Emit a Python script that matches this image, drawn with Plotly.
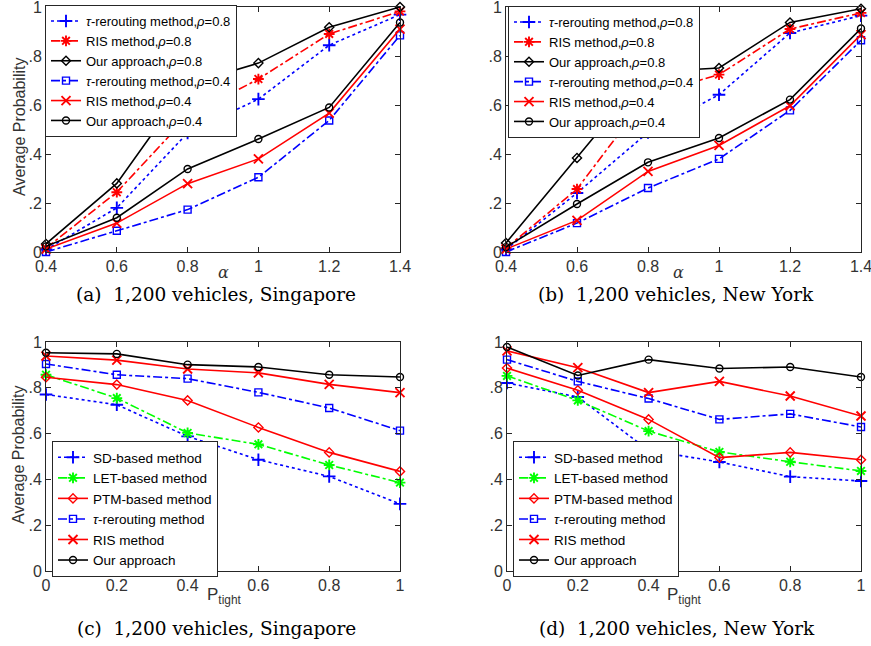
import plotly.graph_objects as go

# ---------------- data ----------------
alpha = [0.4, 0.6, 0.8, 1.0, 1.2, 1.4]
ptight = [0, 0.2, 0.4, 0.6, 0.8, 1.0]
alpha_ticks = ["0.4", "0.6", "0.8", "1", "1.2", "1.4"]
ptight_ticks = ["0", "0.2", "0.4", "0.6", "0.8", "1"]
y_vals = [0, 0.2, 0.4, 0.6, 0.8, 1.0]
y_ticks = ["0", ".2", ".4", ".6", ".8", "1"]

# (a) Singapore, varying alpha
a_tau08 = [0.010, 0.180, 0.486, 0.624, 0.844, 0.969]
a_ris08 = [0.016, 0.244, 0.554, 0.706, 0.890, 0.982]
a_our08 = [0.033, 0.280, 0.685, 0.771, 0.917, 1.000]
a_tau04 = [0.000, 0.087, 0.173, 0.305, 0.537, 0.884]
a_ris04 = [0.012, 0.118, 0.279, 0.380, 0.567, 0.910]
a_our04 = [0.023, 0.140, 0.339, 0.461, 0.590, 0.937]

# (b) New York, varying alpha
b_tau08 = [0.010, 0.241, 0.488, 0.642, 0.894, 0.965]
b_ris08 = [0.016, 0.257, 0.640, 0.724, 0.910, 0.976]
b_our08 = [0.037, 0.384, 0.735, 0.751, 0.937, 0.993]
b_tau04 = [0.000, 0.118, 0.261, 0.380, 0.578, 0.864]
b_ris04 = [0.012, 0.129, 0.329, 0.435, 0.597, 0.887]
b_our04 = [0.020, 0.196, 0.366, 0.465, 0.622, 0.912]

# (c) Singapore, varying P_tight
c_sd = [0.771, 0.726, 0.588, 0.486, 0.413, 0.293]
c_let = [0.857, 0.755, 0.603, 0.553, 0.463, 0.386]
c_ptm = [0.846, 0.814, 0.745, 0.627, 0.518, 0.435]
c_tau = [0.904, 0.857, 0.840, 0.780, 0.712, 0.613]
c_ris = [0.939, 0.921, 0.882, 0.865, 0.815, 0.779]
c_our = [0.953, 0.948, 0.901, 0.891, 0.857, 0.847]

# (d) New York, varying P_tight
d_sd = [0.821, 0.760, 0.527, 0.476, 0.412, 0.393]
d_let = [0.852, 0.745, 0.611, 0.520, 0.477, 0.437]
d_ptm = [0.886, 0.789, 0.662, 0.495, 0.518, 0.486]
d_tau = [0.923, 0.828, 0.753, 0.662, 0.686, 0.629]
d_ris = [0.961, 0.888, 0.779, 0.828, 0.764, 0.677]
d_our = [0.978, 0.854, 0.923, 0.884, 0.891, 0.847]

names_top = [
    "<i>τ</i>-rerouting method,<i>ρ</i>=0.8",
    "RIS method,<i>ρ</i>=0.8",
    "Our approach,<i>ρ</i>=0.8",
    "<i>τ</i>-rerouting method,<i>ρ</i>=0.4",
    "RIS method,<i>ρ</i>=0.4",
    "Our approach,<i>ρ</i>=0.4",
]
names_bot = [
    "SD-based method",
    "LET-based method",
    "PTM-based method",
    "<i>τ</i>-rerouting method",
    "RIS method",
    "Our approach",
]

BLUE, RED, BLACK, GREEN = "#0000FF", "#FF0000", "#000000", "#00FF00"
styles_top = [
    (BLUE, "dot", "cross-thin"),
    (RED, "dashdot", "asterisk"),
    (BLACK, "solid", "diamond-open"),
    (BLUE, "dashdot", "square-open"),
    (RED, "solid", "x-thin"),
    (BLACK, "solid", "circle-open"),
]
styles_bot = [
    (BLUE, "dot", "cross-thin"),
    (GREEN, "dashdot", "asterisk"),
    (RED, "solid", "diamond-open"),
    (BLUE, "dashdot", "square-open"),
    (RED, "solid", "x-thin"),
    (BLACK, "solid", "circle-open"),
]

fig = go.Figure()

panels = [
    ("x", "y", "legend", alpha, [a_tau08, a_ris08, a_our08, a_tau04, a_ris04, a_our04], names_top, styles_top),
    ("x2", "y2", "legend2", alpha, [b_tau08, b_ris08, b_our08, b_tau04, b_ris04, b_our04], names_top, styles_top),
    ("x3", "y3", "legend3", ptight, [c_sd, c_let, c_ptm, c_tau, c_ris, c_our], names_bot, styles_bot),
    ("x4", "y4", "legend4", ptight, [d_sd, d_let, d_ptm, d_tau, d_ris, d_our], names_bot, styles_bot),
]

for xa, ya, lg, xs, series, names, styles in panels:
    for ys, nm, (col, dash, sym) in zip(series, names, styles):
        thin = sym in ("cross-thin", "x-thin", "asterisk")
        fig.add_trace(go.Scatter(
            x=xs, y=ys, name=nm, xaxis=xa, yaxis=ya, legend=lg,
            mode="lines+markers", cliponaxis=False,
            line=dict(color=col, width=1.6, dash=dash),
            marker=dict(symbol=sym, size=9 if thin else 7,
                        color=col, line=dict(color=col, width=1.9 if thin else 1.4)),
        ))

W, H = 871, 646
def px(v):
    return v / W
def py(v):
    return 1 - v / H

sans = "Liberation Sans, Arial, sans-serif"
serif = "DejaVu Serif, serif"

axis_common = dict(
    showline=True, mirror="ticks", linecolor="#262626", linewidth=1,
    ticks="inside", ticklen=5, tickcolor="#262626", tickwidth=1,
    showgrid=False, zeroline=False, automargin=False, ticklabeloverflow="allow",
    tickfont=dict(family=sans, size=16, color="#333333"),
)

domx_left = [px(46), px(400)]
domx_right_top = [px(506), px(861)]
domx_right_bot = [px(507), px(861)]
domy_top = [py(252), py(7)]
domy_bot = [py(571), py(342)]

fig.update_layout(
    template="none",
    width=W, height=H, margin=dict(l=0, r=0, t=0, b=0, autoexpand=False),
    paper_bgcolor="white", plot_bgcolor="white", showlegend=True,
    font=dict(family=sans, color="#000000"),
    xaxis=dict(domain=domx_left, anchor="y", range=[0.4, 1.4], tickvals=alpha, ticktext=alpha_ticks, **axis_common),
    yaxis=dict(domain=domy_top, anchor="x", range=[0, 1], tickvals=y_vals, ticktext=y_ticks, **axis_common),
    xaxis2=dict(domain=domx_right_top, anchor="y2", range=[0.4, 1.4], tickvals=alpha, ticktext=alpha_ticks, **axis_common),
    yaxis2=dict(domain=domy_top, anchor="x2", range=[0, 1], tickvals=y_vals, ticktext=y_ticks, **axis_common),
    xaxis3=dict(domain=domx_left, anchor="y3", range=[0, 1], tickvals=ptight, ticktext=ptight_ticks, **axis_common),
    yaxis3=dict(domain=domy_bot, anchor="x3", range=[0, 1], tickvals=y_vals, ticktext=y_ticks, **axis_common),
    xaxis4=dict(domain=domx_right_bot, anchor="y4", range=[0, 1], tickvals=ptight, ticktext=ptight_ticks, **axis_common),
    yaxis4=dict(domain=domy_bot, anchor="x4", range=[0, 1], tickvals=y_vals, ticktext=y_ticks, **axis_common),
)

leg_common = dict(bgcolor="white", bordercolor="#262626", borderwidth=1,
                  xanchor="left", yanchor="top", tracegroupgap=0, itemwidth=30)
top_font = dict(family=sans, size=13, color="#000000")
bot_font = dict(family=sans, size=13.5, color="#000000")
fig.update_layout(
    legend=dict(x=px(45), y=py(5), font=top_font, **leg_common),
    legend2=dict(x=px(508), y=py(6), font=top_font, **leg_common),
    legend3=dict(x=px(52), y=py(441), font=bot_font, **leg_common),
    legend4=dict(x=px(513), y=py(441), font=bot_font, **leg_common),
)

ann = []
lab_font = dict(family=sans, size=16, color="#333333")
# y-axis labels
ann.append(dict(text="Average Probability", x=px(19), y=py(127), xref="paper", yref="paper",
                xanchor="center", yanchor="middle", textangle=-90, showarrow=False, font=lab_font))
ann.append(dict(text="Average Probability", x=px(18), y=py(455), xref="paper", yref="paper",
                xanchor="center", yanchor="middle", textangle=-90, showarrow=False, font=lab_font))
# x-axis labels
ann.append(dict(text="<i>α</i>", x=0.9, y=py(272), xref="x", yref="paper", showarrow=False,
                xanchor="center", yanchor="middle", font=dict(family=serif, size=16, color="#333333")))
ann.append(dict(text="<i>α</i>", x=0.885, y=py(272), xref="x2", yref="paper", showarrow=False,
                xanchor="center", yanchor="middle", font=dict(family=serif, size=16, color="#333333")))
ann.append(dict(text="P<sub>tight</sub>", x=0.449, y=py(596), xref="x3", yref="paper", showarrow=False,
                xanchor="left", yanchor="middle", font=dict(family=sans, size=17, color="#333333")))
ann.append(dict(text="P<sub>tight</sub>", x=0.446, y=py(596), xref="x4", yref="paper", showarrow=False,
                xanchor="left", yanchor="middle", font=dict(family=sans, size=17, color="#333333")))
# captions
caps = [
    ("(a)\u00a0\u00a01,200 vehicles, Singapore", 216, 295),
    ("(b)\u00a0\u00a01,200 vehicles, New York", 676, 295),
    ("(c)\u00a0\u00a01,200 vehicles, Singapore", 216, 628),
    ("(d)\u00a0\u00a01,200 vehicles, New York", 677, 628),
]
for t, cx, cy in caps:
    ann.append(dict(text=t, x=px(cx), y=py(cy), xref="paper", yref="paper", showarrow=False,
                    xanchor="center", yanchor="middle",
                    font=dict(family=serif, size=18.5, color="#000000")))
fig.update_layout(annotations=ann)

fig.write_html("out.html")
